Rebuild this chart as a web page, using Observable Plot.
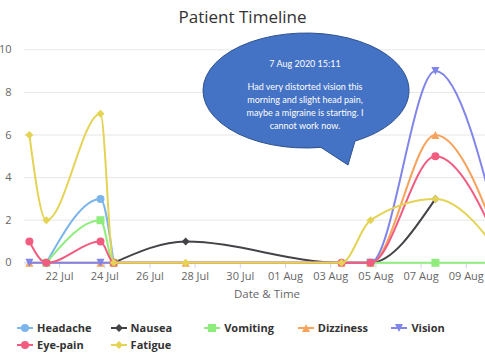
<!DOCTYPE html>
<html><head><meta charset="utf-8">
<script src="https://cdn.jsdelivr.net/npm/d3@7"></script>
<script src="https://cdn.jsdelivr.net/npm/@observablehq/plot@0.6"></script>
<style>
body{margin:0;background:#fff;width:485px;height:360px;overflow:hidden;position:relative;font-family:"Open Sans",sans-serif}
#title{position:absolute;top:5px;left:0;width:485px;text-align:center;font-size:17px;color:#333;line-height:24px}
#chart{position:absolute;top:0;left:0;width:485px;height:305px;overflow:hidden}
#xtitle{position:absolute;top:285px;left:167px;width:200px;text-align:center;font-size:11.5px;color:#666;line-height:18px}
.leg{position:absolute;font-weight:bold;font-size:11px;color:#333;line-height:14px;white-space:nowrap;display:flex;align-items:center}
.leg svg{margin-right:4px}
</style></head><body>
<div id="title">Patient Timeline</div>
<div id="chart"></div>
<div id="xtitle">Date &amp; Time</div>
<div id="legend"></div>
<script>
// ---- data ----
const seriesNames = ["Headache","Nausea","Vomiting","Dizziness","Vision","Eye-pain","Fatigue"];
const seriesColors = ["#7cb5ec","#434348","#90ed7d","#f7a35c","#8085e9","#f15c80","#e4d354"];
const seriesSymbols = ["circle","diamond","square","triangle","triangle-down","circle","diamond"];
const times = ["2020-07-20T16:00","2020-07-21T10:00","2020-07-23T19:30","2020-07-24T09:30","2020-07-27T14:00","2020-08-03T11:30","2020-08-04T18:15","2020-08-07T15:11","2020-08-10T19:00"];
const headache  = [null,0,3,0,null,null,null,null,null];
const nausea    = [null,null,null,0,1,0,0,3,null];
const vomiting  = [null,0,2,0,null,null,0,0,0];
const dizziness = [0,null,0,0,0,0,0,6,0];
const vision    = [0,null,0,null,null,null,0,9,0];
const eyePain   = [1,0,1,0,null,0,0,5,0];
const fatigue   = [6,2,7,0,0,0,2,3,0];
const yTicks = [0,2,4,6,8,10];
const xTicks = ["2020-07-22","2020-07-24","2020-07-26","2020-07-28","2020-07-30","2020-08-01","2020-08-03","2020-08-05","2020-08-07","2020-08-09"];
const xDomain = ["2020-07-20T10:48","2020-08-09T20:24"];
const noteDate = "7 Aug 2020 15:11";
const noteLines = ["Had very distorted vision this","morning and slight head pain,","maybe a migraine is starting. I","cannot work now."];

const seriesValues = [headache,nausea,vomiting,dizziness,vision,eyePain,fatigue];
const U = s => new Date(s + "Z");

// custom marker symbols (Highcharts-like)
function poly(pts){return {draw(ctx,size){const r=Math.sqrt(size/Math.PI);ctx.moveTo(pts[0][0]*r,pts[0][1]*r);for(let k=1;k<pts.length;k++)ctx.lineTo(pts[k][0]*r,pts[k][1]*r);ctx.closePath();}};}
const symbolDefs = {
  "circle":"circle",
  "diamond":poly([[0,-1],[1,0],[0,1],[-1,0]]),
  "square":poly([[-1,-1],[1,-1],[1,1],[-1,1]]),
  "triangle":poly([[0,-1],[1,1],[-1,1]]),
  "triangle-down":poly([[0,1],[1,-1],[-1,-1]])
};

const marks = [
  Plot.ruleY(yTicks, {y: d => d, stroke: "#e6e6e6", strokeWidth: 1}),
  Plot.ruleY([0], {stroke: "#ccd6eb", strokeWidth: 1}),
  Plot.axisY({ticks: yTicks, tickSize: 0, tickPadding: 13, fontSize: 11, fill: "#666", label: null}),
  Plot.axisX({ticks: xTicks.map(U), tickFormat: d3.utcFormat("%d %b"), tickSize: 6, tickPadding: 3, fontSize: 11, fill: "#666", stroke: "#ccd6eb", label: null})
];
seriesNames.forEach((name, i) => {
  const rows = [];
  seriesValues[i].forEach((v, j) => { if (v != null) rows.push({series: name, time: U(times[j]), value: v}); });
  marks.push(Plot.line(rows, {x: "time", y: "value", stroke: seriesColors[i], strokeWidth: 2, curve: "monotone-x"}));
  marks.push(Plot.dot(rows, {x: "time", y: "value", fill: seriesColors[i], r: 4, symbol: symbolDefs[seriesSymbols[i]]}));
});

const plot = Plot.plot({
  width: 485, height: 305,
  marginLeft: 24, marginRight: 0, marginTop: 49.3, marginBottom: 42.7,
  style: {fontFamily: "'Open Sans', sans-serif", background: "transparent", overflow: "visible"},
  x: {type: "utc", domain: xDomain.map(U)},
  y: {domain: [0, 10]},
  marks
});
document.getElementById("chart").appendChild(plot);

// callout bubble (annotation)
const svg = d3.select(plot);
const g = svg.append("g");
const cx = 306, cy = 90.5, rx = 103, ry = 57.5;
const bR = [355, cy + ry*Math.sqrt(1 - ((355-cx)/rx)**2)];
const bL = [321, cy + ry*Math.sqrt(1 - ((321-cx)/rx)**2)];
g.append("path")
  .attr("d", `M${bR[0]},${bR[1]} A${rx},${ry} 0 1 0 ${bL[0]},${bL[1]} L348,165 Z`)
  .attr("fill", "#4472c4").attr("stroke", "#2f528f").attr("stroke-width", 1);
g.append("text").attr("x", 305).attr("y", 63).attr("text-anchor", "middle").attr("dominant-baseline", "central")
  .attr("fill", "#fff").style("font-family", "Lato, sans-serif").style("font-size", "9px").text(noteDate);
noteLines.forEach((t, k) => {
  g.append("text").attr("x", 305).attr("y", 86 + k*13.2).attr("text-anchor", "middle").attr("dominant-baseline", "central")
    .attr("fill", "#fff").style("font-family", "Lato, sans-serif").style("font-size", "9px").text(t);
});

// legend
const leg = document.getElementById("legend");
seriesNames.forEach((name, i) => {
  const col = i % 5, row = Math.floor(i / 5);
  const div = document.createElement("div");
  div.className = "leg";
  div.style.left = (17 + col*93.6) + "px";
  div.style.top = (321 + row*17) + "px";
  const s = d3.create("svg").attr("width", 16).attr("height", 12);
  s.append("line").attr("x1", 0).attr("x2", 16).attr("y1", 6).attr("y2", 6).attr("stroke", seriesColors[i]).attr("stroke-width", 2);
  const sym = symbolDefs[seriesSymbols[i]];
  const p = d3.path();
  if (sym === "circle") { p.arc(0, 0, 4, 0, 2*Math.PI); } else { sym.draw(p, Math.PI*16); }
  s.append("path").attr("d", p.toString()).attr("transform", "translate(8,6)").attr("fill", seriesColors[i]);
  div.appendChild(s.node());
  const span = document.createElement("span");
  span.textContent = name;
  div.appendChild(span);
  leg.appendChild(div);
});
</script>
</body></html>
